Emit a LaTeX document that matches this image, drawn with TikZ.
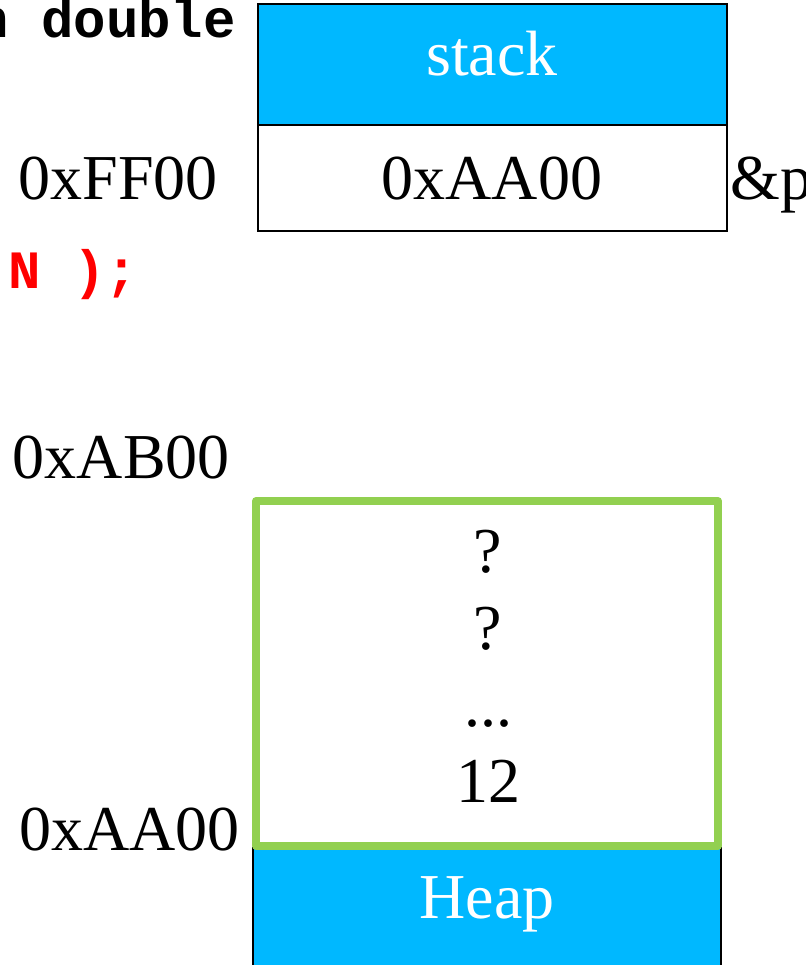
\documentclass[tikz,border=0pt]{standalone}
\usepackage{fontspec}
\setmainfont{Liberation Serif}
\newfontfamily\codefont{Liberation Mono}
\definecolor{memblue}{RGB}{0,184,255}
\definecolor{memgreen}{RGB}{146,208,80}
\definecolor{codered}{RGB}{255,0,0}
\begin{document}
\begin{tikzpicture}[x=1pt,y=-1pt,
  big/.style={font=\fontsize{64}{64}\selectfont, inner sep=0pt, anchor=base},
  code/.style={font=\codefont\bfseries\fontsize{54}{54}\selectfont, inner sep=0pt, anchor=base},
  cell/.style={draw=black, line width=1.2pt},
  frame/.style={draw=memgreen, line width=8pt, line join=round}]
\useasboundingbox (0,0) rectangle (805,965);
\clip (0,0) rectangle (805,965);
% stack
\path[cell, fill=memblue] (258,4) rectangle (727,125);
\path[cell, fill=white] (258,125) rectangle (727,231);
\node[big, text=white] (stk) at (492,76) {stack};
\node[big] (ptrval) at (492,200) {0xAA00};
\node[big, anchor=base east] (addrff) at (218,200) {0xFF00};
\node[big, anchor=base west] (amp) at (730,200) {\&p};
% code fragments
\node[code, anchor=base east] (c1) at (236,38) {n double};
\node[code, anchor=base west, text=codered] (c2) at (8,288) {N );};
% heap
\path[cell, fill=memblue] (253,848) rectangle (721,990);
\node[big, text=white] (heap) at (487,918) {Heap};
\path[frame, fill=white] (256,501) rectangle (718,846);
\node[big] (q1) at (488,572) {?};
\node[big] (q2) at (488,649) {?};
\node[big] (dots) at (488,726) {...};
\node[big] (v12) at (488,802) {12};
\node[big, anchor=base east] (addrab) at (230,478) {0xAB00};
\node[big, anchor=base east] (addraa) at (240,850) {0xAA00};
\end{tikzpicture}
\end{document}
